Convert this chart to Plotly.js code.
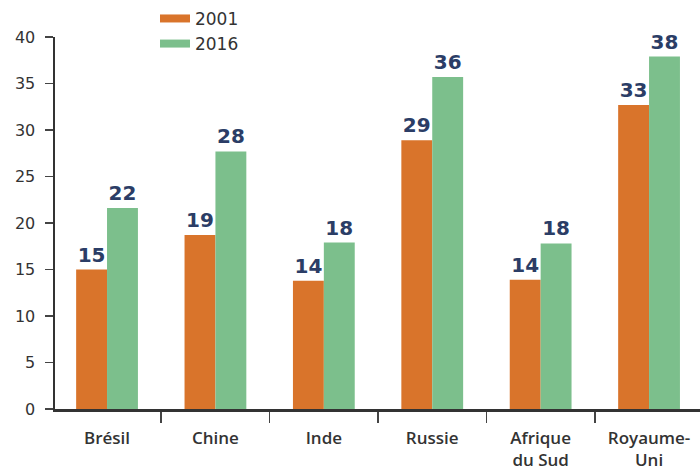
<!DOCTYPE html>
<html>
<head>
<meta charset="utf-8">
<script src="https://cdn.plot.ly/plotly-3.0.1.min.js"></script>
<style>html,body{margin:0;padding:0;background:#fff;}#chart{width:700px;height:473px;}</style>
</head>
<body>
<div id="chart"></div>
<script>
const categories = ["Brésil", "Chine", "Inde", "Russie", "Afrique<br>du Sud", "Royaume-<br>Uni"];
const values2001 = [15.0, 18.7, 13.8, 28.9, 13.9, 32.7];
const values2016 = [21.6, 27.7, 17.9, 35.7, 17.8, 37.9];
const seriesNames = ["2001", "2016"];
const yTicks = [0, 5, 10, 15, 20, 25, 30, 35, 40];

const orange = "#d9742b";
const green = "#7cbf8c";
const navy = "#2b3d66";
const numFamily = "'DejaVu Sans', sans-serif";
const labelFont = {family: numFamily, size: 20, color: navy, weight: 700};

const traces = [
  {type: "bar", x: categories, y: values2001, name: seriesNames[0], marker: {color: orange},
   texttemplate: "%{y:.0f}", textposition: "outside", textfont: labelFont, cliponaxis: false, showlegend: false, hoverinfo: "skip"},
  {type: "bar", x: categories, y: values2016, name: seriesNames[1], marker: {color: green},
   texttemplate: "%{y:.0f}", textposition: "outside", textfont: labelFont, cliponaxis: false, showlegend: false, hoverinfo: "skip"},
  {type: "scatter", mode: "lines", x: [null], y: [null], name: seriesNames[0], line: {color: orange, width: 8}},
  {type: "scatter", mode: "lines", x: [null], y: [null], name: seriesNames[1], line: {color: green, width: 8}}
];

const layout = {
  width: 700, height: 473,
  margin: {l: 55, r: 0, t: 37, b: 64},
  paper_bgcolor: "#fff", plot_bgcolor: "#fff",
  barmode: "group", bargap: 0.43, bargroupgap: 0,
  font: {family: numFamily, color: "#333"},
  showlegend: true,
  legend: {x: 0.155, xanchor: "left", y: 1.097, yanchor: "top", yref: "paper",
           font: {size: 17, color: "#333", family: numFamily}, bgcolor: "rgba(0,0,0,0)", tracegroupgap: 0},
  xaxis: {
    type: "category", range: [-0.48, 5.47], fixedrange: true,
    showline: true, linecolor: "#333", linewidth: 2.5,
    ticks: "outside", tickson: "boundaries", ticklen: 11, tickwidth: 1.5, tickcolor: "#444",
    ticklabelstandoff: 12,
    tickfont: {size: 17, color: "#333", weight: 600, family: "'Open Sans', sans-serif"},
    showgrid: false, zeroline: false
  },
  yaxis: {
    range: [0, 40], tickvals: yTicks, ticktext: yTicks.map(String), fixedrange: true,
    showline: true, linecolor: "#333", linewidth: 2.5,
    ticks: "outside", ticklen: 8, tickwidth: 1.5, tickcolor: "#444",
    ticklabelstandoff: 6,
    tickfont: {size: 16, color: "#333", family: numFamily},
    showgrid: false, zeroline: false
  }
};

Plotly.newPlot("chart", traces, layout, {displayModeBar: false, staticPlot: true});
</script>
</body>
</html>
